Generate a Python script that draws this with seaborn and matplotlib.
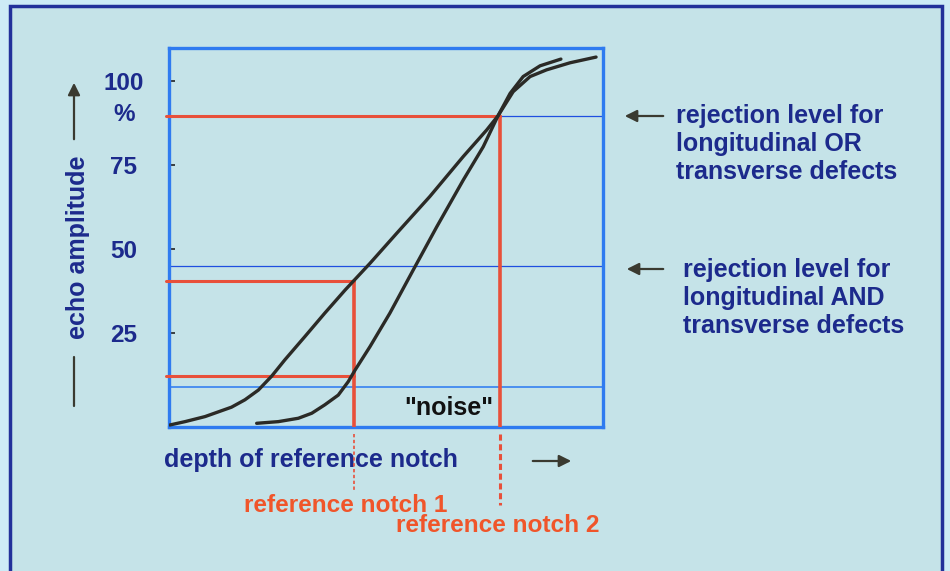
import matplotlib
matplotlib.use('Agg')
import matplotlib.pyplot as plt
import matplotlib.patches as mpatches
import seaborn as sns
import pandas as pd

# echo amplitude curves (depth in arbitrary units 0-100, amplitude in %)
depth_1 = [0.2, 3.7, 8.3, 14.4, 17.5, 20.6, 23.7, 26.7, 31.3, 35.9, 40.6, 46.3, 52.5, 60.1,
           67.8, 73.2, 75.8, 79.3, 83.2, 87.0, 92.4, 98.4]
amp_1 = [-2.4, -1.4, 0.1, 2.9, 5.1, 8.0, 12.2, 17.0, 23.9, 30.9, 37.8, 45.7, 54.7, 65.6,
         77.5, 85.4, 89.6, 96.8, 101.3, 103.3, 105.4, 107.1]
depth_2 = [20.2, 25.2, 29.8, 32.9, 35.9, 39.0, 41.3, 42.9, 46.3, 50.9, 56.3, 61.7, 67.8, 72.4,
           75.8, 78.6, 81.6, 85.5, 90.3]
amp_2 = [-1.9, -1.4, -0.4, 1.1, 3.6, 6.5, 10.5, 14.0, 20.9, 30.9, 43.8, 56.6, 70.5, 80.4,
         89.6, 96.3, 101.3, 104.5, 106.5]

reject_or = 90
reject_and = 45
noise_level = 9
notch_depths = [42.6, 76.3]
notch_amps = [40.5, 89.6]
notch1_low = 12.2

ytick_vals = [25, 50, 75, 100]
ytick_labels = ['25', '50', '75', '100']

NAVY = '#1c2a8c'
RED = '#e8503a'
ORANGE = '#f0552a'
DARK = '#3a3a30'
CURVE = '#2b2a26'

sns.set_theme(style='white')
plt.rcParams['font.family'] = ['Liberation Sans', 'DejaVu Sans']

fig = plt.figure(figsize=(9.5, 5.71), dpi=100, facecolor='#cdebf6')
panel = mpatches.Rectangle((9.5 / 950, -0.05), 932 / 950, 1.05 - 6 / 571, transform=fig.transFigure,
                           facecolor='#c5e3e8', edgecolor='#22309a', linewidth=2.5, zorder=-5)
fig.patches.append(panel)

ax = fig.add_axes([169 / 950, 1 - 427 / 571, 434 / 950, 379 / 571])
ax.set_facecolor('#c5e3e8')
ax.set_xlim(0, 100)
ax.set_ylim(-3, 109.8)

df = pd.DataFrame({'depth': depth_1 + depth_2, 'amp': amp_1 + amp_2,
                   'curve': ['1'] * len(depth_1) + ['2'] * len(depth_2)})
sns.lineplot(data=df, x='depth', y='amp', units='curve', estimator=None, sort=False,
             color=CURVE, linewidth=2.4, ax=ax, zorder=5)

# rejection levels and noise
ax.axhline(reject_and, color='#1f4fe0', linewidth=0.9, zorder=2)
ax.axhline(noise_level, color='#4a8ff0', linewidth=1.4, zorder=2)
ax.plot([notch_depths[1], 100], [notch_amps[1], notch_amps[1]], color='#1f4fe0', linewidth=0.9, zorder=2)

# red construction lines
ax.plot([-0.6, notch_depths[1]], [notch_amps[1], notch_amps[1]], color=RED, linewidth=2.2, zorder=4, clip_on=False)
ax.plot([-0.6, notch_depths[0]], [notch_amps[0], notch_amps[0]], color=RED, linewidth=2.2, zorder=4, clip_on=False)
ax.plot([-0.6, notch_depths[0]], [notch1_low, notch1_low], color=RED, linewidth=2.2, zorder=4, clip_on=False)
ax.plot([notch_depths[0], notch_depths[0]], [notch_amps[0], -3], color=RED, linewidth=2.6, zorder=4)
ax.plot([notch_depths[1], notch_depths[1]], [notch_amps[1], -3], color=RED, linewidth=2.6, zorder=4)
ax.plot([notch_depths[0], notch_depths[0]], [-5, -21.7], color=RED, linewidth=1.2,
        linestyle=(0, (2, 1.5)), clip_on=False)
ax.plot([notch_depths[1], notch_depths[1]], [-5, -26.2], color=RED, linewidth=2.2,
        linestyle=(0, (2, 1.2)), clip_on=False)

for s in ax.spines.values():
    s.set_color('#2f7bf0')
    s.set_linewidth(2.4)

ax.set_xticks([])
ax.set_yticks(ytick_vals)
ax.set_yticklabels(ytick_labels)
ax.tick_params(axis='y', direction='in', length=4, width=1.2, color='#222222', left=True,
               pad=32.5, labelsize=17.5, labelcolor=NAVY)
for lab in ax.get_yticklabels():
    lab.set_horizontalalignment('center')
    lab.set_fontweight('bold')
ax.text(-10.4, reject_or, '%', ha='center', va='center', fontsize=17.5, fontweight='bold',
        color=NAVY, clip_on=False)

ax.text(64.5, 2.6, '"noise"', ha='center', va='center', fontsize=18, fontweight='bold', color='#111111')

ax.set_ylabel('echo amplitude', fontsize=18, fontweight='bold', color=NAVY)
ax.yaxis.set_label_coords(-0.21, 0.475)
ax.yaxis.label.set_va('center')
ax.set_xlabel('depth of reference notch', fontsize=18, fontweight='bold', color=NAVY)
ax.xaxis.set_label_coords(0.327, -0.088)
ax.xaxis.label.set_va('center')

arrow = dict(arrowstyle='-|>', color=DARK, lw=1.6, mutation_scale=18)
W, H = 950, 571
ax.annotate('', xy=(74 / W, 1 - 80 / H), xytext=(74 / W, 1 - 142 / H), xycoords='figure fraction',
            textcoords='figure fraction', arrowprops=arrow)
fig.add_artist(plt.Line2D([74 / W, 74 / W], [1 - 357 / H, 1 - 406 / H], color=DARK, lw=1.6))
ax.annotate('', xy=(574 / W, 1 - 461 / H), xytext=(530 / W, 1 - 461 / H), xycoords='figure fraction',
            textcoords='figure fraction', arrowprops=arrow)
ax.annotate('', xy=(622 / W, 1 - 116 / H), xytext=(666 / W, 1 - 116 / H), xycoords='figure fraction',
            textcoords='figure fraction', arrowprops=arrow)
ax.annotate('', xy=(624 / W, 1 - 269 / H), xytext=(666 / W, 1 - 269 / H), xycoords='figure fraction',
            textcoords='figure fraction', arrowprops=arrow)

fig.text(676 / W, 1 - 144 / H, 'rejection level for\nlongitudinal OR\ntransverse defects',
         ha='left', va='center', fontsize=18, fontweight='bold', color=NAVY, linespacing=1.22)
fig.text(683 / W, 1 - 298 / H, 'rejection level for\nlongitudinal AND\ntransverse defects',
         ha='left', va='center', fontsize=18, fontweight='bold', color=NAVY, linespacing=1.22)

fig.text(244 / W, 1 - 505 / H, 'reference notch 1', ha='left', va='center', fontsize=17.6,
         fontweight='bold', color=ORANGE)
fig.text(396 / W, 1 - 526 / H, 'reference notch 2', ha='left', va='center', fontsize=17.6,
         fontweight='bold', color=ORANGE)

fig.savefig('out.png', dpi=100, facecolor=fig.get_facecolor())
